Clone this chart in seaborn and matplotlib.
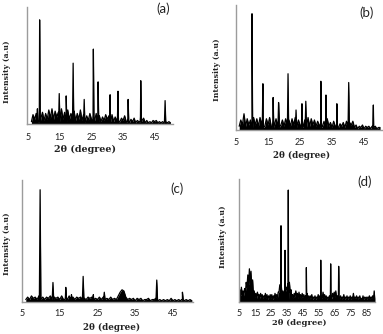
import numpy as np
import pandas as pd
import matplotlib
matplotlib.use('Agg')
import matplotlib.pyplot as plt
import seaborn as sns

# ---- data (intensity in % of axis height) ----
# background noise on a regular 2theta grid, peaks as (2theta, height)
a_bg_start, a_bg_step = 6.0, 0.5
a_bg = [2, 8, 4, 9, 3, 12, 5, 10, 3, 9,
        4, 12, 5, 13, 4, 11, 6, 10, 5, 13,
        4, 10, 6, 12, 4, 9, 5, 11, 3, 9,
        4, 12, 3, 8, 2, 7, 3, 9, 4, 8,
        3, 9, 4, 7, 2, 6, 3, 8, 4, 7,
        3, 8, 2, 6, 3, 7, 2, 5, 3, 7,
        2, 5, 1, 4, 2, 5, 1, 3, 2, 6,
        3, 5, 1, 3, 1, 2, 1, 3, 2, 3,
        1, 2, 1, 2, 1, 2, 1, 2, 1]
a_peaks = [(7.9, 13), (8.6, 89), (14.8, 26), (17.0, 24), (19.2, 52), (22.7, 21),
           (25.6, 64), (27.1, 36), (30.9, 25), (33.4, 28), (36.6, 21),
           (40.6, 37), (48.3, 20)]

b_bg_start, b_bg_step = 6.0, 0.5
b_bg = [3, 8, 4, 13, 3, 9, 4, 8, 3, 10,
        4, 9, 3, 10, 5, 8, 3, 9, 4, 10,
        3, 8, 4, 9, 3, 10, 4, 8, 3, 9,
        4, 8, 3, 9, 4, 10, 3, 8, 4, 9,
        3, 8, 4, 10, 3, 9, 4, 8, 3, 7,
        4, 8, 3, 7, 4, 9, 3, 6, 2, 7,
        3, 6, 2, 5, 3, 6, 2, 7, 3, 6,
        4, 7, 2, 4, 1, 3, 2, 4, 1, 3,
        2, 3, 1, 3, 2, 3, 1, 2, 2]
b_peaks = [(10.0, 93), (13.4, 37), (16.6, 26), (18.3, 22), (21.25, 45),
           (23.75, 16), (25.6, 21), (26.8, 23), (31.5, 39), (33.1, 28),
           (36.5, 21), (40.2, 38), (47.9, 20)]

c_bg_start, c_bg_step = 6.0, 0.5
c_bg = [2, 4, 2, 5, 3, 4, 2, 5, 2, 4,
        2, 4, 3, 5, 2, 4, 3, 4, 2, 5,
        2, 4, 2, 5, 3, 4, 2, 4, 3, 4,
        2, 3, 2, 4, 3, 4, 2, 3, 2, 4,
        2, 4, 2, 3, 2, 4, 2, 3, 2, 5,
        8, 10, 9, 4, 2, 3, 2, 3, 1, 3,
        2, 3, 1, 2, 2, 3, 1, 2, 2, 3,
        1, 2, 1, 2, 1, 2, 1, 3, 1, 2,
        1, 2, 1, 2, 1, 2, 1, 2, 1]
c_peaks = [(9.8, 92), (13.2, 16), (16.6, 12), (18.1, 6), (21.2, 21),
           (23.9, 6), (26.8, 8), (40.7, 18), (47.5, 8)]

d_bg_start, d_bg_step = 5.0, 0.5
d_bg = [2, 10, 5, 12, 6, 9, 5, 11, 8, 16, 12, 22, 14, 27, 15, 25, 10, 18, 6, 9,
        4, 7, 3, 8, 5, 6, 3, 7, 4, 6, 3, 5, 4, 7, 3, 6, 2, 5, 3, 6,
        3, 6, 2, 5, 3, 7, 4, 6, 3, 8, 8, 14, 10, 12, 6, 9, 5, 9, 8, 12,
        10, 15, 12, 16, 8, 10, 4, 6, 3, 7, 4, 9, 5, 7, 3, 8, 4, 6, 3, 7,
        4, 6, 3, 5, 4, 7, 3, 5, 2, 5, 3, 6, 2, 4, 3, 5, 2, 4, 3, 6,
        3, 5, 2, 4, 3, 8, 4, 6, 3, 5, 2, 4, 3, 5, 2, 4, 3, 7, 4, 8,
        4, 9, 3, 5, 2, 13, 3, 5, 2, 4, 3, 6, 2, 4, 3, 5, 2, 4, 3, 5,
        2, 4, 3, 7, 2, 4, 3, 5, 2, 4, 3, 5, 2, 3, 2, 5, 2, 4, 3, 4,
        2, 4, 3, 5, 2, 4, 3, 5, 2, 9, 3]
d_peaks = [(31.25, 62), (33.75, 42), (35.8, 91), (47.1, 28), (56.1, 34),
           (62.3, 31), (67.3, 29)]

ticks_abc = [5, 15, 25, 35, 45]
ticks_d = [5, 15, 25, 35, 45, 55, 65, 75, 85]
panel_names = ['(a)', '(b)', '(c)', '(d)']

W, H = 383, 334
SPINE = '#9c9c9c'


def build_pattern(start, step, bg, peaks, half=0.2, base=2):
    tt = list(start + step * np.arange(len(bg)))
    inten = list(bg)
    for pos, h in peaks:
        tt += [pos - half, pos, pos + half]
        inten += [base, h, base]
    df = pd.DataFrame({'tt': tt, 'I': inten})
    return df.sort_values('tt', kind='stable')


def px_axes(fig, left, top, right, bottom):
    return fig.add_axes([left / W, 1 - bottom / H, (right - left) / W, (bottom - top) / H])


def style_axes(ax, box, xlim, ticks, pad, xlab_px, ylab_px, name_px, name, xlab_size=6.3):
    left, top, right, bottom = box
    fx = lambda px: (px - left) / (right - left)
    fy = lambda py: (bottom - py) / (bottom - top)
    ax.set_xlim(*xlim)
    ax.set_ylim(0, 100)
    ax.set_yticks([])
    ax.set_xticks(ticks)
    ax.set_xticklabels([str(t) for t in ticks])
    for s in ['top', 'right']:
        ax.spines[s].set_visible(False)
    for s in ['left', 'bottom']:
        ax.spines[s].set_color(SPINE)
        ax.spines[s].set_linewidth(1.0)
    ax.tick_params(axis='x', length=2, width=0.8, color=SPINE, pad=pad,
                   labelsize=6.5, labelcolor='#222222')
    for lab in ax.get_xticklabels():
        lab.set_family('Lato')
    ax.set_xlabel('2θ (degree)', fontsize=xlab_size, fontweight='bold',
                  family='DejaVu Serif', color='#222222')
    ax.set_ylabel('Intensity (a.u)', fontsize=5.6, fontweight='bold',
                  family='DejaVu Serif', color='#222222')
    ax.xaxis.label.set_va('center')
    ax.yaxis.label.set_va('center')
    ax.xaxis.set_label_coords(fx(xlab_px[0]), fy(xlab_px[1]))
    ax.yaxis.set_label_coords(fx(ylab_px[0]), fy(ylab_px[1]))
    ax.text(fx(name_px[0]), fy(name_px[1]), name, transform=ax.transAxes,
            ha='center', va='center', fontsize=9.5, family='Lato', color='#222222')


sns.set_style('white')
plt.rcParams['font.family'] = ['DejaVu Sans']

fig = plt.figure(figsize=(W / 100, H / 100), dpi=100)

panels = [
    dict(box=(27, 7, 173, 124), data=(a_bg_start, a_bg_step, a_bg, a_peaks),
         xlim=(4.6, 50.8), ticks=ticks_abc, pad=4.3, xlab=(85, 149), ylab=(7, 72),
         name=(163, 9), xs=6.9),
    dict(box=(236, 5, 382, 130), data=(b_bg_start, b_bg_step, b_bg, b_peaks),
         xlim=(5, 50.6), ticks=ticks_abc, pad=3.6, xlab=(302, 155), ylab=(217, 70),
         name=(367, 13), xs=6.3),
    dict(box=(22, 180, 193, 302), data=(c_bg_start, c_bg_step, c_bg, c_peaks),
         xlim=(5, 50.3), ticks=ticks_abc, pad=2.8, xlab=(112, 327), ylab=(7, 244),
         name=(177, 189), xs=6.3),
    dict(box=(239, 179, 375, 302), data=(d_bg_start, d_bg_step, d_bg, d_peaks),
         xlim=(5, 90), ticks=ticks_d, pad=3.0, xlab=(299, 323), ylab=(223, 237),
         name=(365, 182), xs=6.0),
]

for p, name in zip(panels, panel_names):
    ax = px_axes(fig, *p['box'])
    df = build_pattern(*p['data'])
    sns.lineplot(data=df, x='tt', y='I', ax=ax, color='black', linewidth=0.9,
                 sort=False, estimator=None)
    # the noise band in the reference is solid black under the trace
    ax.fill_between(df['tt'], df['I'], 0, color='black', linewidth=0)
    style_axes(ax, p['box'], p['xlim'], p['ticks'], p['pad'], p['xlab'], p['ylab'],
               p['name'], name, xlab_size=p['xs'])

fig.savefig('out.png', dpi=100)
